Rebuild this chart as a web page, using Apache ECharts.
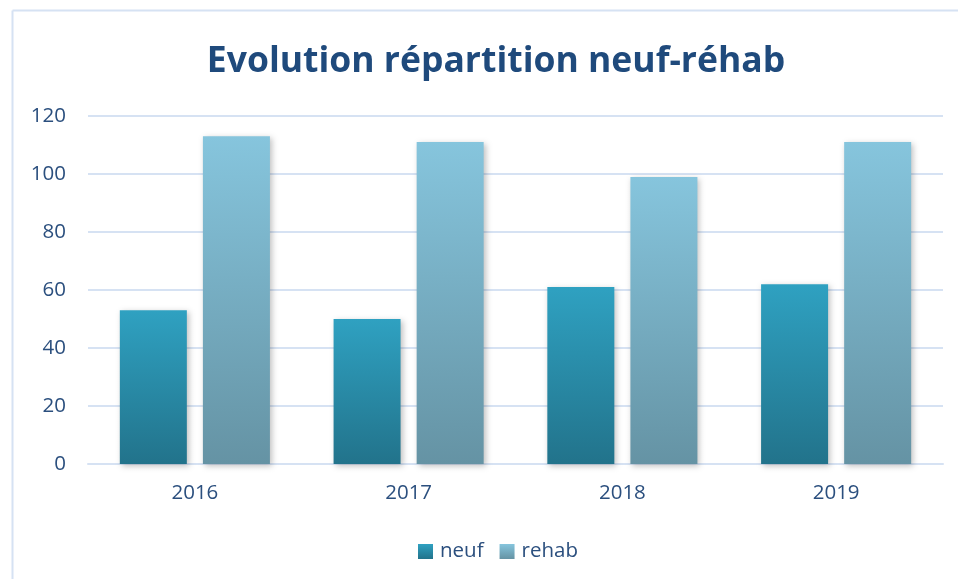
<!DOCTYPE html>
<html>
<head>
<meta charset="utf-8">
<script src="https://cdn.jsdelivr.net/npm/echarts@6/dist/echarts.min.js"></script>
<style>
	html, body { margin: 0; padding: 0; background: #fff; }
	#chart { width: 958px; height: 581px; }
</style>
</head>
<body>
<div id="chart"></div>
<script>
var years = ['2016', '2017', '2018', '2019']
var neuf = [53, 50, 61, 62]
var rehab = [113, 111, 99, 111]

var textColor = '#2B4F7E'
var gridColor = '#D6E2F3'
var labelFont = 20.5

function gradient (top, bottom) {
	return new echarts.graphic.LinearGradient(0, 0, 0, 1, [
		{offset: 0, color: top},
		{offset: 1, color: bottom}
	])
}

var chart = echarts.init(document.getElementById('chart'))

var option = {
	animation: false,
	backgroundColor: '#fff',
	title: {
		text: 'Evolution répartition neuf-réhab',
		left: 491,
		textAlign: 'center',
		top: 39,
		textStyle: {
			fontFamily: 'Open Sans',
			fontWeight: 'bold',
			fontSize: 35.5,
			color: '#1F4A7C'
		}
	},
	graphic: [
		{type: 'line', shape: {x1: 12.5, y1: 10.5, x2: 958, y2: 10.5}, style: {stroke: gridColor, lineWidth: 2}},
		{type: 'line', shape: {x1: 12.5, y1: 10.5, x2: 12.5, y2: 579}, style: {stroke: gridColor, lineWidth: 2}}
	],
	legend: {
		top: 536,
		left: 413,
		icon: 'rect',
		itemWidth: 15,
		itemHeight: 15,
		itemGap: 16,
		textStyle: {fontFamily: 'Open Sans', fontSize: labelFont, color: textColor, padding: [0, 0, 0, 2]},
		data: ['neuf', 'rehab']
	},
	grid: {left: 88, right: 15, top: 116, bottom: 117},
	xAxis: {
		type: 'category',
		data: years,
		axisLine: {lineStyle: {color: gridColor, width: 2}},
		axisTick: {show: false},
		axisLabel: {fontFamily: 'Open Sans', fontSize: labelFont, color: textColor, margin: 19}
	},
	yAxis: {
		type: 'value',
		min: 0,
		max: 120,
		interval: 20,
		axisLine: {show: false},
		axisTick: {show: false},
		axisLabel: {fontFamily: 'Open Sans', fontSize: labelFont, color: textColor, margin: 22},
		splitLine: {lineStyle: {color: gridColor, width: 2}}
	},
	series: [
		{
			name: 'neuf',
			type: 'bar',
			data: neuf,
			barWidth: 67,
			barGap: '24%',
			itemStyle: {
				color: gradient('#2FA1C1', '#22738B'),
				shadowColor: 'rgba(0,0,0,0.25)',
				shadowBlur: 6,
				shadowOffsetX: 2,
				shadowOffsetY: 2
			}
		},
		{
			name: 'rehab',
			type: 'bar',
			data: rehab,
			barWidth: 67,
			itemStyle: {
				color: gradient('#86C5DD', '#6593A4'),
				shadowColor: 'rgba(0,0,0,0.25)',
				shadowBlur: 6,
				shadowOffsetX: 2,
				shadowOffsetY: 2
			}
		}
	]
}

chart.setOption(option)
</script>
</body>
</html>
